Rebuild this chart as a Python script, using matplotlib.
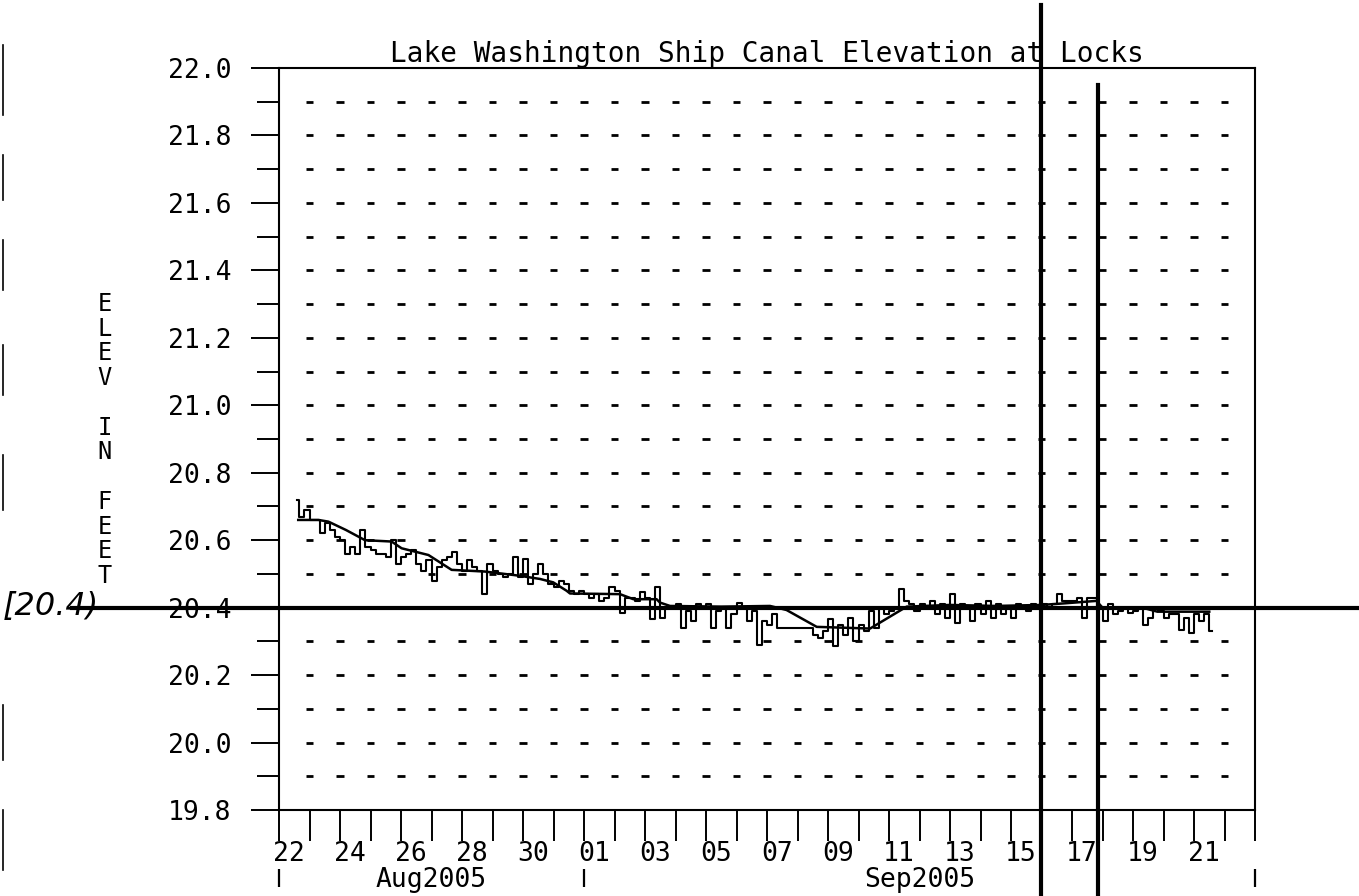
import matplotlib
matplotlib.use("Agg")
import matplotlib.pyplot as plt
import matplotlib.transforms as mtransforms
from matplotlib.lines import Line2D
import numpy as np
import pandas as pd

# scanned plot of canal elevation, Aug 22 - Sep 23 2005
origin = pd.Timestamp("2005-08-22 00:00")

# raw gauge readings, every 4 hours from Aug 22 14:00
raw_elev = [
    20.72, 20.67, 20.69, 20.66, 20.66, 20.62,
    20.65, 20.63, 20.61, 20.60, 20.56, 20.58,
    20.56, 20.63, 20.58, 20.57, 20.56, 20.56,
    20.55, 20.60, 20.53, 20.55, 20.56, 20.57,
    20.53, 20.51, 20.54, 20.48, 20.52, 20.54,
    20.55, 20.565, 20.53, 20.51, 20.54, 20.52,
    20.51, 20.44, 20.53, 20.51, 20.50, 20.49,
    20.50, 20.55, 20.49, 20.545, 20.47, 20.50,
    20.53, 20.50, 20.47, 20.46, 20.48, 20.47,
    20.45, 20.44, 20.45, 20.44, 20.43, 20.44,
    20.42, 20.43, 20.46, 20.45, 20.385, 20.43,
    20.43, 20.42, 20.445, 20.43, 20.365, 20.46,
    20.37, 20.40, 20.40, 20.41, 20.34, 20.39,
    20.36, 20.41, 20.40, 20.41, 20.34, 20.39,
    20.40, 20.34, 20.38, 20.415, 20.40, 20.36,
    20.39, 20.29, 20.36, 20.35, 20.38, 20.34,
    20.34, 20.34, 20.34, 20.34, 20.34, 20.34,
    20.32, 20.31, 20.33, 20.365, 20.285, 20.35,
    20.32, 20.37, 20.30, 20.35, 20.33, 20.39,
    20.34, 20.40, 20.38, 20.39, 20.40, 20.455,
    20.42, 20.41, 20.39, 20.41, 20.40, 20.42,
    20.38, 20.41, 20.37, 20.44, 20.355, 20.41,
    20.40, 20.36, 20.41, 20.38, 20.42, 20.37,
    20.41, 20.38, 20.40, 20.37, 20.41, 20.40,
    20.39, 20.41, 20.40, 20.41, 20.40, 20.41,
    20.44, 20.42, 20.42, 20.42, 20.43, 20.37,
    20.43, 20.43, 20.40, 20.36, 20.41, 20.38,
    20.39, 20.40, 20.385, 20.39, 20.40, 20.35,
    20.37, 20.40, 20.39, 20.37, 20.38, 20.38,
    20.335, 20.37, 20.325, 20.38, 20.36, 20.38,
    20.33,
]
raw_times = pd.date_range("2005-08-22 14:00", periods=len(raw_elev), freq="4h")

# smoothed trace (days after Aug 22 00:00, feet)
smooth_day = [0.63, 1.29, 1.62, 2.2, 2.82, 3.69, 4.02, 4.9, 5.66, 6.75, 7.85,
              8.56, 8.99, 9.43, 9.54, 11.18, 11.62, 12.38, 12.49, 12.82, 14.5,
              16.1, 16.64, 17.63, 19.38, 20.58, 22.0, 23.5, 25.0, 25.8, 26.8,
              27.0, 28.3, 28.8, 30.5]
smooth_elev = [20.66, 20.66, 20.655, 20.63, 20.60, 20.596, 20.576, 20.556, 20.512,
               20.507, 20.495, 20.485, 20.475, 20.45, 20.442, 20.44, 20.425, 20.425,
               20.415, 20.405, 20.403, 20.405, 20.393, 20.343, 20.338, 20.403, 20.408,
               20.405, 20.408, 20.413, 20.42, 20.40, 20.40, 20.388, 20.388]

tick_days = [0, 2, 4, 6, 8, 10, 12, 14, 16, 18, 20, 22, 24, 26, 28, 30]
tick_labels = ["22", "24", "26", "28", "30", "01", "03", "05", "07", "09",
               "11", "13", "15", "17", "19", "21"]
month_labels = ["Aug2005", "Sep2005"]
month_centers = [5, 21]
month_bounds = [0, 10, 32]

# hand-drawn marks on the printout
ref_level = 20.4
pen_days = [24.98, 26.85]

plt.rcParams['font.family'] = ['DejaVu Sans Mono', 'DejaVu Sans']

fig = plt.figure(figsize=(13.59, 8.96), dpi=100)
ax = fig.add_axes([279/1359, 1-810/896, 976/1359, 742/896])

raw_day = (raw_times - origin) / pd.Timedelta("1D")
ax.plot(raw_day, raw_elev, color="black", lw=1.5, drawstyle="steps-mid")
ax.plot(smooth_day, smooth_elev, color="black", lw=1.8)

# dotted grid: short dashes each day, every 0.1 ft
grid_y = np.round(np.arange(19.9, 21.95, 0.1), 1)
grid_x = np.arange(1, 32)
for gy in grid_y:
    ax.hlines([gy]*len(grid_x), grid_x-0.12, grid_x+0.12, color="black", lw=2.0)

ax.set_xlim(0, 32)
ax.set_ylim(19.8, 22.0)
ax.set_yticks(np.round(np.arange(19.8, 22.01, 0.2), 1))
ax.set_yticks(np.round(np.arange(19.9, 22.0, 0.2), 1), minor=True)
ax.yaxis.set_major_formatter(matplotlib.ticker.FormatStrFormatter("%.1f"))
ax.tick_params(axis="y", which="major", length=20, width=1.4, pad=14, labelsize=19)
ax.tick_params(axis="y", which="minor", length=16, width=1.4)

ax.set_xticks(np.arange(0, 33), minor=True)
ax.set_xticks(tick_days)
ax.set_xticklabels(tick_labels)
ax.tick_params(axis="x", which="both", length=22, width=1.4, pad=0, labelsize=19)
shift = mtransforms.ScaledTranslation(10/100, 0, fig.dpi_scale_trans)
for lab in ax.get_xticklabels():
    lab.set_transform(lab.get_transform() + shift)

for s in ax.spines.values():
    s.set_linewidth(1.5)

xt = ax.get_xaxis_transform()
ax.vlines(month_bounds, -0.104, -0.079, transform=xt, color="black", lw=1.6, clip_on=False)
for mx, ml in zip(month_centers, month_labels):
    ax.text(mx, -0.094, ml, transform=xt, ha="center", va="center", fontsize=19)

ax.set_title("Lake Washington Ship Canal Elevation at Locks", fontsize=20, pad=1)

fig.text(0.077, 1-440/896, "E\nL\nE\nV\n\nI\nN\n\nF\nE\nE\nT", ha="center", va="center",
         fontsize=17, linespacing=1.04)

# pen lines drawn over the printout
ax.axhline(ref_level, xmin=-0.212, xmax=1.11, color="black", lw=3, clip_on=False)
ax.axvline(pen_days[0], ymin=-0.12, ymax=1.085, color="black", lw=3, clip_on=False)
ax.axvline(pen_days[1], ymin=-0.12, ymax=0.977, color="black", lw=3, clip_on=False)
fig.text(0.002, 1-607/896, "[20.4)", ha="left", va="center", fontsize=23,
         style="italic", family="DejaVu Sans")

# binder edge marks on the scan
for y0, y1 in [(45, 115), (155, 200), (240, 290), (345, 395), (455, 510), (705, 760), (810, 870)]:
    fig.add_artist(Line2D([0.002, 0.002], [1-y0/896, 1-y1/896], color="black", lw=1.2))

fig.savefig("out.png", dpi=100)
